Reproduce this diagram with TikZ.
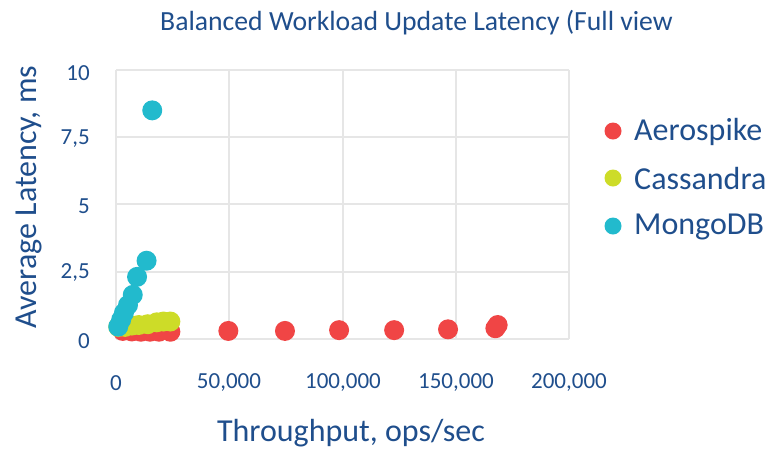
\documentclass[tikz,border=0pt]{standalone}
\usepackage{fontspec}
\setmainfont{Carlito}
\definecolor{txt}{HTML}{1F4E8C}
\definecolor{grid}{HTML}{E6E6E6}
\definecolor{aero}{HTML}{F04545}
\definecolor{cass}{HTML}{CDDC28}
\definecolor{mongo}{HTML}{22BACD}
\tikzset{
  gridline/.style={draw=grid, line width=2.5pt},
  ticklbl/.style={text=txt, font=\fontsize{23}{26}\selectfont, inner sep=0pt},
  axtitle/.style={text=txt, font=\fontsize{32}{35}\selectfont, inner sep=0pt},
  legtext/.style={text=txt, font=\fontsize{32}{35}\selectfont, inner sep=0pt, anchor=west},
  pt/.style={circle, inner sep=0pt, minimum size=20pt},
  lmark/.style={circle, inner sep=0pt, minimum size=17pt},
}
\begin{document}
\begin{tikzpicture}[x=1pt,y=-1pt]
\useasboundingbox (0,0) rectangle (769,451);
% title
\node[text=txt, font=\fontsize{27.7}{30}\selectfont, inner sep=0pt, anchor=west] (title) at (160,23) {Balanced Workload Update Latency (Full view};
% grid
\foreach \yy in {70,137,204,272,339} \draw[gridline] (116,\yy) -- (569,\yy);
\foreach \xx in {116,229,343,456,569} \draw[gridline] (\xx,70) -- (\xx,339);
% y tick labels
\node[ticklbl, anchor=east] (y10) at (90,73) {10};
\node[ticklbl, anchor=east] (y75) at (90,139) {7,5};
\node[ticklbl, anchor=east] (y5) at (90,206) {5};
\node[ticklbl, anchor=east] (y25) at (90,273) {2,5};
\node[ticklbl, anchor=east] (y0) at (90,341) {0};
% x tick labels
\node[ticklbl] (x0) at (116,383) {0};
\node[ticklbl] (x50) at (229,383) {50,000};
\node[ticklbl] (x100) at (343,383) {100,000};
\node[ticklbl] (x150) at (456,383) {150,000};
\node[ticklbl] (x200) at (569,383) {200,000};
% axis titles
\node[axtitle] (xt) at (351,433) {Throughput, ops/sec};
\node[axtitle, rotate=90] (yt) at (29,197) {Average Latency, ms};
% data
\begin{scope}[shift={(116,339)}, x=2.265pt, y=26.9pt]
\foreach \a/\b [count=\i] in {3/0.3,7/0.28,11/0.27,15/0.27,19/0.27,24/0.27,49.6/0.3,74.6/0.3,98.5/0.33,122.8/0.33,146.6/0.36,167.5/0.4,168.5/0.52}
  \node[pt, fill=aero] (a\i) at (\a,\b) {};
\foreach \a/\b [count=\i] in {1/0.45,4/0.45,7/0.5,10/0.52,14/0.55,18/0.62,21/0.65,24/0.65}
  \node[pt, fill=cass] (c\i) at (\a,\b) {};
\foreach \a/\b [count=\i] in {1/0.46,2.3/0.72,3.5/0.97,5.3/1.26,7.4/1.64,9.3/2.31,13.5/2.91,16/8.5}
  \node[pt, fill=mongo] (m\i) at (\a,\b) {};
\end{scope}
% legend
\node[lmark, fill=aero] (la) at (613,131) {};
\node[legtext] (lta) at (634,132) {Aerospike};
\node[lmark, fill=cass] (lc) at (613,178) {};
\node[legtext] (ltc) at (634,179) {Cassandra};
\node[lmark, fill=mongo] (lm) at (613,226) {};
\node[legtext] (ltm) at (634,227) {MongoDB};
\end{tikzpicture}
\end{document}
